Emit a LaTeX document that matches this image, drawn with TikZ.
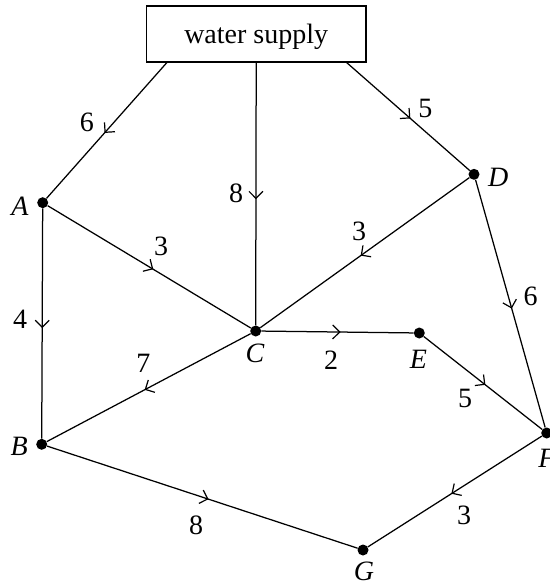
\documentclass[tikz,border=0pt]{standalone}
\usepackage{fontspec}
\setmainfont{Liberation Serif}
\usetikzlibrary{arrows.meta,decorations.markings}
\tikzset{
  dot/.style={circle,fill=black,inner sep=0pt,minimum size=11pt},
  edge/.style={line width=1.25pt},
  flow/.style={postaction={decorate},decoration={markings,
     mark=at position #1 with {\arrow{Straight Barb[length=7pt,width=14pt,line width=1.2pt]}}}},
  flow/.default=0.52,
  lab/.style={inner sep=0pt,font=\fontsize{28}{33}\selectfont},
  vlab/.style={inner sep=0pt,font=\fontsize{28}{33}\selectfont\itshape},
}
\begin{document}
\begin{tikzpicture}[x=1pt,y=-1pt]
\useasboundingbox (0,0) rectangle (549,585);
% water supply box
\node[draw,line width=1.25pt,minimum width=219.5pt,minimum height=56pt,inner sep=0pt] (ws) at (256.2,34) {};
\node[lab,anchor=base] (wst) at (256.2,44) {water supply};
\coordinate (wa) at (167.4,62);
\coordinate (wd) at (346,62);
% vertices
\node[dot] (A) at (42.7,202.7) {};
\node[dot] (B) at (41.7,444.3) {};
\node[dot] (C) at (255.7,331) {};
\node[dot] (D) at (474,174.3) {};
\node[dot] (E) at (419.3,333) {};
\node[dot] (F) at (546.7,433) {};
\node[dot] (G) at (363,550) {};
% vertex labels
\node[vlab] (lA) at (20,206) {A};
\node[vlab] (lB) at (19.3,446.7) {B};
\node[vlab] (lC) at (255,353) {C};
\node[vlab] (lD) at (498.3,177.3) {D};
\node[vlab] (lE) at (418.3,359.3) {E};
\node[vlab] (lF) at (547,458) {F};
\node[vlab] (lG) at (364,571.5) {G};
% edges
\draw[edge,flow] (wa) -- (A);
\draw[edge,flow] (ws.south) -- (C);
\draw[edge,flow] (wd) -- (D);
\draw[edge,flow] (A) -- (C);
\draw[edge,flow] (D) -- (C);
\draw[edge,flow] (A) -- (B);
\draw[edge,flow] (D) -- (F);
\draw[edge,flow] (C) -- (E);
\draw[edge,flow] (E) -- (F);
\draw[edge,flow] (C) -- (B);
\draw[edge,flow] (B) -- (G);
\draw[edge,flow] (F) -- (G);
% edge weights
\node[lab] (w1) at (86.8,122.3) {6};
\node[lab] (w2) at (236,193) {8};
\node[lab] (w3) at (425.4,108.3) {5};
\node[lab] (w4) at (161,246.7) {3};
\node[lab] (w5) at (359,231.7) {3};
\node[lab] (w6) at (20,319) {4};
\node[lab] (w7) at (530.7,296.7) {6};
\node[lab] (w8) at (331,360) {2};
\node[lab] (w9) at (465,398.3) {5};
\node[lab] (w10) at (143.3,363) {7};
\node[lab] (w11) at (196,525) {8};
\node[lab] (w12) at (464,515) {3};
\end{tikzpicture}
\end{document}
